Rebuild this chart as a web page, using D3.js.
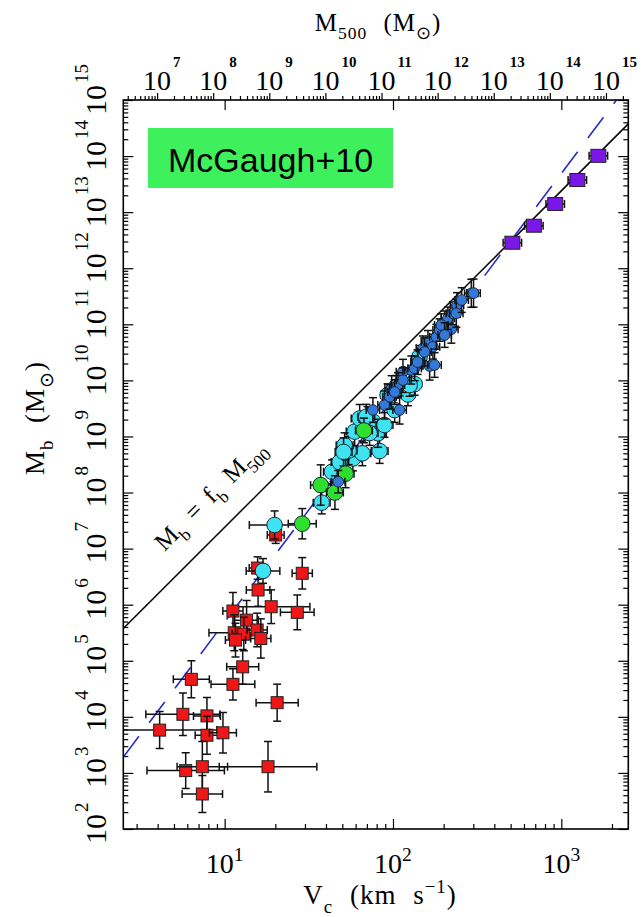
<!DOCTYPE html>
<html><head><meta charset="utf-8">
<script src="https://cdn.jsdelivr.net/npm/d3@7"></script>
<style>body{margin:0;background:#fff} svg{display:block}</style>
</head><body><svg id="c" width="644" height="917"></svg>
<script>
// ---------------- data ----------------
const xDomain = [2.5, 2500];          // V_c (km/s)
const yDomain = [1e2, 1e15];          // M_b (Msun)
const xTickValues = [10, 100, 1000];
const yTickExponents = [2,3,4,5,6,7,8,9,10,11,12,13,14,15];
const m500TickExponents = [7,8,9,10,11,12,13,14,15];
const fb = 0.15;            // baryon fraction (M_b = f_b M500)
const m500PerV3 = 1.6e5;    // M500 = m500PerV3 * V^3
const btfrA = 49;           // M_b = A V^4

// red squares (dwarf spheroidals)
const redV  = [28.9,15.8,18.9,11.2,27.0,13.5,11.4,13.0,15.6,16.4,11.6,12.8,6.34,11.2,20.5,5.65,7.85,4.11,7.85,9.77,5.87,7.37,18.1,7.37,20.1,15.7];
const redMb = [3.63e6,1.83e6,9.2e5,7.7e5,7.3e5,5.3e5,3.16e5,3.0e5,3.54e5,2.5e5,2.34e5,7.8e4,4.67e4,3.8e4,1.79e4,1.11e4,1.04e4,5.8e3,4.7e3,5.2e3,1.1e3,1.29e3,1.29e3,421,1.75e7,4.5e6];
const redVErr = [0.06,0.07,0.23,0.06,0.10,0.07,0.15,0.07,0.06,0.06,0.06,0.095,0.107,0.13,0.125,0.22,0.08,0.34,0.07,0.08,0.23,0.15,0.29,0.12,0.05,0.05];
const redMErr = [0.28,0.29,0.30,0.33,0.31,0.35,0.32,0.30,0.30,0.35,0.30,0.31,0.33,0.28,0.33,0.38,0.33,0.33,0.34,0.36,0.32,0.45,0.45,0.33,0.15,0.2];

// cyan circles (gas rich)
const cyanV  = [19.8,16.9,37.7,43.4,57.8,65.8,54.5,83.3,59.2,63.4,70.6,76.7,81.4,72.6,104.7,122.7,134.5,144,69.4,92.9,125.6,51.6,48.2,89.1,102.3,50.9];
const cyanMb = [2.64e7,4.0e6,6.6e7,2.35e8,4.04e8,5.0e8,5.6e8,5.5e8,1.22e9,2.09e9,2.05e9,1.81e9,1.14e9,1.15e9,7.7e9,5.6e9,8.6e9,2.64e10,2.25e9,5.48e9,8.26e9,7.0e8,3.5e8,1.6e9,2.96e9,5.3e8];
const cyanVErr = [0.15,0.10,0.05,0.05,0.05,0.05,0.05,0.05,0.05,0.05,0.05,0.05,0.05,0.05,0.04,0.04,0.04,0.04,0.05,0.04,0.04,0.05,0.05,0.05,0.04,0.05];
const cyanMErr = [0.25,0.22,0.20,0.21,0.22,0.22,0.25,0.22,0.25,0.25,0.22,0.22,0.25,0.22,0.20,0.20,0.20,0.20,0.22,0.20,0.20,0.22,0.25,0.22,0.22,0.25];

// green circles
const greenV  = [28.9,37.2,45.2,52.3,67.2];
const greenMb = [2.78e7,1.36e8,1.0e8,2.17e8,1.28e9];
const greenVErr = [0.083,0.06,0.05,0.05,0.05];
const greenMErr = [0.27,0.36,0.30,0.25,0.22];

// blue circles (star dominated)
const blueV  = [47.3,89.1,98.2,109.5,95.5,114.6,128.5,165.1,176.6,150.7,161.3,172.7,180.9,189.3,202.7,222.2,212.1,227,239.9,237.8,292,301,76,107,193.6,134.5,114.6,154,102.3,140,256,202.7];
const blueMb = [1.56e8,3.64e9,7.3e9,2.96e9,5.1e9,1.43e10,1.53e10,1.80e10,1.88e10,3.73e10,4.89e10,3.98e10,6.0e10,7.9e10,1.04e11,8.2e10,1.28e11,1.57e11,2.21e11,1.57e11,3.57e11,3.6e11,2.96e9,8.26e9,9.7e10,1.64e10,1.01e10,3.22e10,6.2e9,2.12e10,2.71e11,6.44e10];
const blueVErr = [0.04,0.04,0.04,0.04,0.04,0.04,0.04,0.04,0.04,0.04,0.04,0.04,0.04,0.04,0.04,0.04,0.04,0.04,0.04,0.04,0.04,0.04,0.04,0.04,0.04,0.04,0.04,0.04,0.04,0.04,0.04,0.04];
const blueMErr = [0.20,0.25,0.22,0.25,0.22,0.22,0.25,0.25,0.22,0.22,0.20,0.22,0.22,0.20,0.22,0.25,0.20,0.20,0.22,0.25,0.25,0.25,0.22,0.22,0.20,0.22,0.22,0.25,0.22,0.22,0.22,0.22];

// purple squares (clusters)
const purpleV  = [512,687,920,1245,1660];
const purpleMb = [2.85e12,5.73e12,1.40e13,3.74e13,1.01e14];
const purpleVErr = [0.055,0.055,0.055,0.055,0.055];
const purpleMErr = [0,0,0,0,0];

// ---------------- layout ----------------
const X0 = 123.3, X1 = 628.3, YT = 100, YB = 829;
const svg = d3.select("#c");
const x = d3.scaleLog().domain(xDomain).range([X0, X1]);
const y = d3.scaleLog().domain(yDomain).range([YB, YT]);
const xm = d3.scaleLog().domain([m500PerV3*Math.pow(xDomain[0],3), m500PerV3*Math.pow(xDomain[1],3)]).range([X0, X1]);
const serif = "'Liberation Serif', 'Times New Roman', serif";

function minorTicks(lo, hi){
  const out=[];
  for(let e=Math.floor(Math.log10(lo)); e<=Math.ceil(Math.log10(hi)); e++)
    for(let m=2;m<=9;m++){const v=m*Math.pow(10,e); if(v>=lo&&v<=hi) out.push(v);}
  return out;
}
function styleAxis(g){ g.select(".domain").remove(); g.selectAll("line").attr("stroke","#000").attr("stroke-width",1.2); g.selectAll("text").remove(); }

// axes ticks
const yMajor = yTickExponents.map(e=>Math.pow(10,e));
svg.append("g").attr("transform",`translate(0,${YB})`).call(d3.axisBottom(x).tickValues(minorTicks(...xDomain)).tickSize(-5).tickFormat("")).call(styleAxis);
svg.append("g").attr("transform",`translate(0,${YB})`).call(d3.axisBottom(x).tickValues(xTickValues).tickSize(-10).tickFormat("")).call(styleAxis);
svg.append("g").attr("transform",`translate(0,${YT})`).call(d3.axisTop(x).tickValues(xTickValues).tickSize(-10).tickFormat("")).call(styleAxis);
svg.append("g").attr("transform",`translate(0,${YT})`).call(d3.axisTop(xm).tickValues(minorTicks(...xm.domain())).tickSize(4).tickFormat("")).call(styleAxis);
svg.append("g").attr("transform",`translate(0,${YT})`).call(d3.axisTop(xm).tickValues(m500TickExponents.map(e=>Math.pow(10,e))).tickSize(7).tickFormat("")).call(styleAxis);
svg.append("g").attr("transform",`translate(${X0},0)`).call(d3.axisLeft(y).tickValues(minorTicks(...yDomain)).tickSize(-5).tickFormat("")).call(styleAxis);
svg.append("g").attr("transform",`translate(${X0},0)`).call(d3.axisLeft(y).tickValues(yMajor).tickSize(-10).tickFormat("")).call(styleAxis);
svg.append("g").attr("transform",`translate(${X1},0)`).call(d3.axisRight(y).tickValues(minorTicks(...yDomain)).tickSize(-5).tickFormat("")).call(styleAxis);
svg.append("g").attr("transform",`translate(${X1},0)`).call(d3.axisRight(y).tickValues(yMajor).tickSize(-10).tickFormat("")).call(styleAxis);

// rich text helper
function rich(g, parts, size){
  const t = g.append("text").attr("font-family", serif).attr("font-size", size).attr("fill","#000");
  let shift = 0;
  parts.forEach(p=>{
    const target = p.sub ? size*0.32 : p.sup ? -size*0.42 : 0;
    t.append("tspan").attr("dy", target-shift).attr("font-size", (p.sub||p.sup)? size*0.7 : size).text(p.t);
    shift = target;
  });
  return t;
}

// bottom tick labels
xTickValues.forEach(v=>{
  const g = svg.append("g").attr("transform",`translate(${x(v)},873)`);
  rich(g,[{t:"10"},{t:String(Math.round(Math.log10(v))),sup:true}],28).attr("text-anchor","middle");
});
// top tick labels (M500)
m500TickExponents.forEach(e=>{
  const px = xm(Math.pow(10,e));
  svg.append("text").attr("x",px).attr("y",90).attr("text-anchor","middle").attr("font-family",serif).attr("font-size",28).text("10");
  svg.append("text").attr("x",px+16).attr("y",67).attr("font-family",serif).attr("font-weight","bold").attr("font-size",15).text(e);
});
// left tick labels
yTickExponents.forEach(e=>{
  const g = svg.append("g").attr("transform",`translate(106,${y(Math.pow(10,e))}) rotate(-90)`);
  g.append("text").attr("x",0).attr("y",0).attr("text-anchor","middle").attr("font-family",serif).attr("font-size",30).text("10");
  g.append("text").attr("x",17).attr("y",-18).attr("font-family",serif).attr("font-size",19).text(e);
});

// axis titles
rich(svg.append("g").attr("transform","translate(380,904)"),[{t:"V"},{t:"c",sub:true},{t:" (km s"},{t:"−1",sup:true},{t:")"}],27)
  .attr("text-anchor","middle").attr("word-spacing",9).attr("letter-spacing",1);
rich(svg.append("g").attr("transform","translate(378,31)"),[{t:"M"},{t:"500",sub:true},{t:" (M"},{t:"⊙",sub:true},{t:")"}],25)
  .attr("text-anchor","middle").attr("word-spacing",9).attr("letter-spacing",1);
rich(svg.append("g").attr("transform","translate(44,418) rotate(-90)"),[{t:"M"},{t:"b",sub:true},{t:" (M"},{t:"⊙",sub:true},{t:")"}],27)
  .attr("text-anchor","middle").attr("word-spacing",9).attr("letter-spacing",1);

// clip
svg.append("clipPath").attr("id","clip").append("rect").attr("x",X0).attr("y",YT).attr("width",X1-X0).attr("height",YB-YT);
const plot = svg.append("g").attr("clip-path","url(#clip)");

// relation lines
const line = d3.line().x(d=>x(d[0])).y(d=>y(d[1]));
const lineV = xDomain;
plot.append("path").attr("d", line(lineV.map(v=>[v, btfrA*Math.pow(v,4)])))
  .attr("fill","none").attr("stroke","#2a2ac8").attr("stroke-width",1.6).attr("stroke-dasharray","26,17");
plot.append("path").attr("d", line(lineV.map(v=>[v, fb*m500PerV3*Math.pow(v,3)])))
  .attr("fill","none").attr("stroke","#000").attr("stroke-width",1.5);

// label along black line
{
  const va = 5.6, vb = 400;
  const pa=[x(va), y(fb*m500PerV3*Math.pow(va,3))], pb=[x(vb), y(fb*m500PerV3*Math.pow(vb,3))];
  const ang = Math.atan2(pb[1]-pa[1], pb[0]-pa[0])*180/Math.PI;
  const g = svg.append("g").attr("transform",`translate(${pa[0]},${pa[1]}) rotate(${ang}) translate(0,-25)`);
  rich(g,[{t:"M"},{t:"b",sub:true},{t:" = f"},{t:"b",sub:true},{t:" M"},{t:"500",sub:true}],25).attr("word-spacing",5);
}

// points
function drawSeries(V, M, dV, dM, opts){
  V.forEach((v,i)=>{
    const g = plot.append("g");
    const cx = x(v), cy = y(M[i]);
    const cap = 4;
    if(dM[i]>0){
      const y1 = y(M[i]*Math.pow(10,-dM[i])), y2 = y(M[i]*Math.pow(10,dM[i]));
      g.append("line").attr("x1",cx).attr("x2",cx).attr("y1",y1).attr("y2",y2);
      g.append("line").attr("x1",cx-cap).attr("x2",cx+cap).attr("y1",y1).attr("y2",y1);
      g.append("line").attr("x1",cx-cap).attr("x2",cx+cap).attr("y1",y2).attr("y2",y2);
    }
    if(dV[i]>0){
      const x1 = x(v*Math.pow(10,-dV[i])), x2 = x(v*Math.pow(10,dV[i]));
      g.append("line").attr("x1",x1).attr("x2",x2).attr("y1",cy).attr("y2",cy);
      g.append("line").attr("x1",x1).attr("x2",x1).attr("y1",cy-cap).attr("y2",cy+cap);
      g.append("line").attr("x1",x2).attr("x2",x2).attr("y1",cy-cap).attr("y2",cy+cap);
    }
    g.selectAll("line").attr("stroke","#111").attr("stroke-width",1.5);
    if(opts.shape==="square"){
      g.append("rect").attr("x",cx-opts.w/2).attr("y",cy-opts.h/2).attr("width",opts.w).attr("height",opts.h)
        .attr("fill",opts.fill).attr("stroke","#222").attr("stroke-width",1);
    } else {
      g.append("circle").attr("cx",cx).attr("cy",cy).attr("r",opts.r).attr("fill",opts.fill).attr("stroke","#1a2a3a").attr("stroke-width",1);
    }
  });
}
drawSeries(redV, redMb, redVErr, redMErr, {shape:"square", w:12, h:12, fill:"#ee1616"});
drawSeries(cyanV, cyanMb, cyanVErr, cyanMErr, {shape:"circle", r:7.8, fill:"#3fe2f0"});
drawSeries(greenV, greenMb, greenVErr, greenMErr, {shape:"circle", r:7.8, fill:"#2ee02e"});
drawSeries(blueV, blueMb, blueVErr, blueMErr, {shape:"circle", r:5.3, fill:"#3479d9"});
drawSeries(purpleV, purpleMb, purpleVErr, purpleMErr, {shape:"square", w:15, h:13, fill:"#7b16e8"});

// frame
svg.append("rect").attr("x",X0).attr("y",YT).attr("width",X1-X0).attr("height",YB-YT).attr("fill","none").attr("stroke","#000").attr("stroke-width",1.6);

// legend box
svg.append("rect").attr("x",148).attr("y",128).attr("width",245).attr("height",60).attr("fill","#3ef05c");
svg.append("text").attr("x",168).attr("y",172).attr("font-family","'Liberation Sans', Arial, sans-serif").attr("font-size",34).attr("fill","#000").text("McGaugh+10");
</script></body></html>
